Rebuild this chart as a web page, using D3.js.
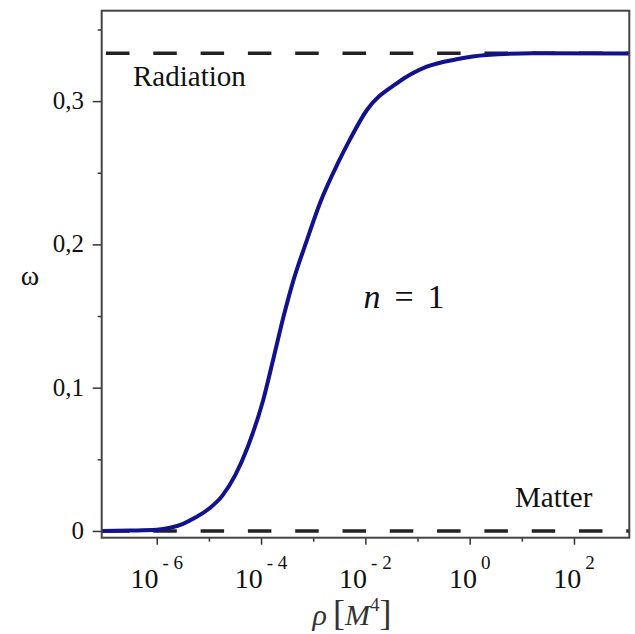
<!DOCTYPE html>
<html>
<head>
<meta charset="utf-8">
<script src="https://cdn.jsdelivr.net/npm/d3@7"></script>
<style>
  body { margin: 0; background: #fff; }
</style>
</head>
<body>
<svg id="main_svg" width="635" height="634"></svg>
<script>
// curve: density rho [M^4] and equation of state omega
const rho = [8.8e-8, 3.2e-7, 1e-6, 1.8e-6, 3.2e-6, 5.6e-6, 1e-5, 1.8e-5, 3.2e-5, 5.6e-5,
             1.1e-4, 1.7e-4, 2.7e-4, 4.2e-4, 7.6e-4, 1.35e-3, 3.0e-3, 5.1e-3, 1.07e-2, 4.0e-2,
             0.15, 0.56, 2.1, 16.6, 1150]
const omega = [0, 0.0003, 0.0008, 0.0022, 0.005, 0.0095, 0.0155, 0.0245, 0.039, 0.059,
               0.0914, 0.1193, 0.1496, 0.1752, 0.2031, 0.2289, 0.2570, 0.2735, 0.2938, 0.3124,
               0.3240, 0.3292, 0.3322, 0.3334, 0.3333]

const xMajor = [1e-6, 1e-4, 1e-2, 1, 1e2]
const xMajorExp = ["- 6", "- 4", "- 2", "0", "2"]
const xMinor = [1e-5, 1e-3, 1e-1, 1e1]
const yMajor = [0, 0.1, 0.2, 0.3]
const yMajorLabels = ["0", "0,1", "0,2", "0,3"]
const yMinor = [0.05, 0.15, 0.25, 0.35]

const radiation = 1 / 3
const matter = 0

const serif = "'Liberation Serif', 'Times New Roman', Times, 'DejaVu Serif', serif"

let svg = d3.select("#main_svg")

let pl = 101.7, pr = 629.3, pt = 10.7, pb = 537.7

let x = d3.scaleLog().domain([8.8e-8, 1150]).range([pl, pr])
let y = d3.scaleLinear().domain([-0.0047, 0.3631]).range([pb, pt])

// ticks
svg.append("g")
    .attr("transform", "translate(0," + pb + ")")
    .call(d3.axisBottom(x).tickValues(xMajor).tickSize(7).tickFormat(""))
    .call(g => g.select(".domain").remove())
svg.append("g")
    .attr("transform", "translate(0," + pb + ")")
    .call(d3.axisBottom(x).tickValues(xMinor).tickSize(4).tickFormat(""))
    .call(g => g.select(".domain").remove())
svg.append("g")
    .attr("transform", "translate(" + pl + ",0)")
    .call(d3.axisLeft(y).tickValues(yMajor).tickSize(9).tickFormat(""))
    .call(g => g.select(".domain").remove())
svg.append("g")
    .attr("transform", "translate(" + pl + ",0)")
    .call(d3.axisLeft(y).tickValues(yMinor).tickSize(4).tickFormat(""))
    .call(g => g.select(".domain").remove())
svg.selectAll(".tick line").attr("stroke", "#333").attr("stroke-width", 1.5)

// x tick labels 10^k
let xl = svg.append("g").selectAll("text")
    .data(xMajor)
    .join("text")
    .attr("x", d => x(d))
    .attr("y", 588)
    .attr("text-anchor", "middle")
    .attr("font-size", 28)
    .attr("fill", "#111")
xl.append("tspan").text("10")
xl.append("tspan")
    .attr("dy", -19)
    .attr("dx", 4)
    .attr("font-size", 19)
    .text((d, i) => xMajorExp[i])

// y tick labels
svg.append("g").selectAll("text")
    .data(yMajor)
    .join("text")
    .attr("x", 84)
    .attr("y", d => y(d) + 8)
    .attr("text-anchor", "end")
    .attr("font-size", 25)
    .attr("fill", "#111")
    .text((d, i) => yMajorLabels[i])

// clip for the plot area
svg.append("clipPath").attr("id", "plotclip")
    .append("rect")
    .attr("x", pl).attr("y", pt)
    .attr("width", pr - pl).attr("height", pb - pt)

let plot = svg.append("g").attr("clip-path", "url(#plotclip)")

// asymptote lines
plot.selectAll(".asym")
    .data([radiation, matter])
    .join("line")
    .attr("class", "asym")
    .attr("x1", pl + 4.3)
    .attr("x2", pr)
    .attr("y1", d => y(d))
    .attr("y2", d => y(d))
    .attr("stroke", "#222")
    .attr("stroke-width", 3.5)
    .attr("stroke-dasharray", "23.5,23.8")

// omega curve
let line = d3.line()
    .x((d, i) => x(rho[i]))
    .y(d => y(d))
    .curve(d3.curveMonotoneX)

plot.append("path")
    .datum(omega)
    .attr("d", line)
    .attr("fill", "none")
    .attr("stroke", "#12128e")
    .attr("stroke-width", 4)
    .attr("stroke-linejoin", "round")

// frame
svg.append("rect")
    .attr("x", pl).attr("y", pt)
    .attr("width", pr - pl).attr("height", pb - pt)
    .attr("fill", "none")
    .attr("stroke", "#444")
    .attr("stroke-width", 2)

// annotations
svg.append("text")
    .attr("x", 133).attr("y", 86)
    .attr("font-size", 29)
    .attr("fill", "#111")
    .text("Radiation")
svg.append("text")
    .attr("x", 515).attr("y", 507)
    .attr("font-size", 29)
    .attr("fill", "#111")
    .text("Matter")

let nlab = svg.append("text")
    .attr("x", 404).attr("y", 308)
    .attr("text-anchor", "middle")
    .attr("font-size", 34)
    .attr("fill", "#111")
nlab.append("tspan").attr("font-style", "italic").text("n")
nlab.append("tspan").attr("dx", 14).text("=")
nlab.append("tspan").attr("dx", 14).text("1")

// axis titles
svg.append("text")
    .attr("x", 30).attr("y", 285)
    .attr("text-anchor", "middle")
    .attr("font-size", 28)
    .attr("fill", "#111")
    .text("ω")

let xt = svg.append("text")
    .attr("x", 352).attr("y", 625)
    .attr("text-anchor", "middle")
    .attr("font-size", 30)
    .attr("fill", "#333")
xt.append("tspan").attr("font-style", "italic").text("ρ")
xt.append("tspan").attr("dx", 6).attr("font-size", 36).text("[")
xt.append("tspan").attr("font-style", "italic").text("M")
xt.append("tspan").attr("dy", -14).attr("font-size", 19).text("4")
xt.append("tspan").attr("dy", 14).attr("font-size", 36).text("]")

svg.selectAll("text").style("font-family", serif)
</script>
</body>
</html>
